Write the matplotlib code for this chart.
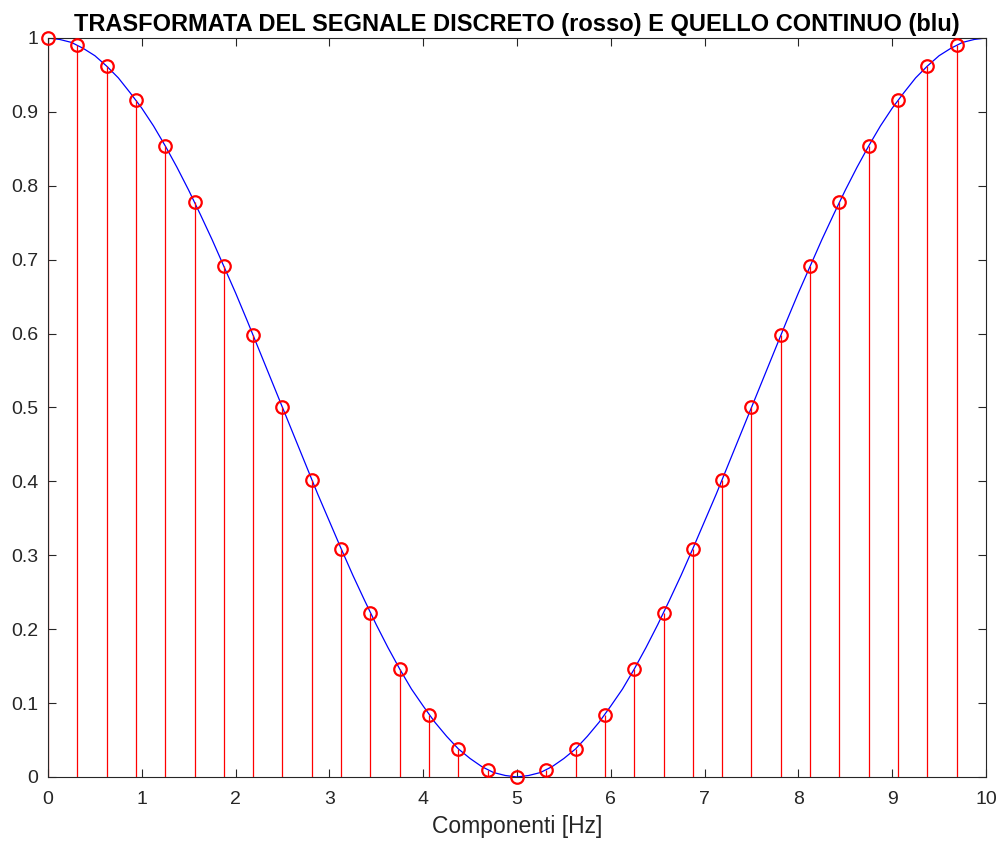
import numpy as np
import matplotlib
matplotlib.use('Agg')
import matplotlib.pyplot as plt

plt.rcParams['font.family'] = ['Liberation Sans', 'DejaVu Sans']

# campioni del segnale discreto (rosso)
freq_discreto = [k * 10 / 32 for k in range(32)]
val_discreto = [1.0, 0.990, 0.962, 0.916, 0.854, 0.778, 0.691, 0.598,
                0.5, 0.402, 0.309, 0.222, 0.146, 0.084, 0.038, 0.010,
                0.0, 0.010, 0.038, 0.084, 0.146, 0.222, 0.309, 0.402,
                0.5, 0.598, 0.691, 0.778, 0.854, 0.916, 0.962, 0.990]

# segnale continuo (blu), letto ogni 0.125 Hz
freq_continuo = [i * 0.125 for i in range(81)]
meta = [1.0, 0.998, 0.994, 0.986, 0.976, 0.962, 0.946, 0.926,
        0.905, 0.881, 0.854, 0.825, 0.794, 0.761, 0.727, 0.691,
        0.655, 0.617, 0.578, 0.539, 0.5, 0.461, 0.422, 0.383,
        0.346, 0.309, 0.273, 0.239, 0.206, 0.175, 0.146, 0.119,
        0.096, 0.074, 0.055, 0.038, 0.025, 0.014, 0.006, 0.002]
val_continuo = meta + [0.0] + meta[::-1]

xticks = list(range(11))
yticks = [i / 10 for i in range(11)]
ytick_lab = ['0', '0.1', '0.2', '0.3', '0.4', '0.5', '0.6', '0.7', '0.8', '0.9', '1']

grigio = '#262626'

fig = plt.figure(figsize=(10.02, 8.46), dpi=100)
ax = fig.add_axes([0.0479, 0.0816, 0.9361, 0.8735])

ax.plot(freq_continuo, val_continuo, color='b', linewidth=0.9, zorder=2)

mk, st, bl = ax.stem(freq_discreto, val_discreto, basefmt=' ')
plt.setp(st, color='r', linewidth=0.9)
plt.setp(mk, color='r', markerfacecolor='none', markeredgecolor='r',
         markersize=9, markeredgewidth=1.6, zorder=3)
mk.set_clip_on(False)

ax.set_xlim(0, 10)
ax.set_ylim(0, 1)
ax.set_xticks(xticks)
ax.set_yticks(yticks)
ax.set_yticklabels(ytick_lab)
ax.tick_params(direction='in', top=True, right=True, length=6, width=0.8,
               colors=grigio, labelsize=14)
ax.tick_params(axis='x', pad=10)
ax.tick_params(axis='y', pad=7)
for s in ax.spines.values():
    s.set_color(grigio)
    s.set_linewidth(0.8)

ax.set_title('TRASFORMATA DEL SEGNALE DISCRETO (rosso) E QUELLO CONTINUO (blu)',
             fontsize=17, fontweight='bold', pad=5)
ax.set_xlabel('Componenti [Hz]', fontsize=16.5, color=grigio, labelpad=5)

fig.savefig('out.png', dpi=100)
